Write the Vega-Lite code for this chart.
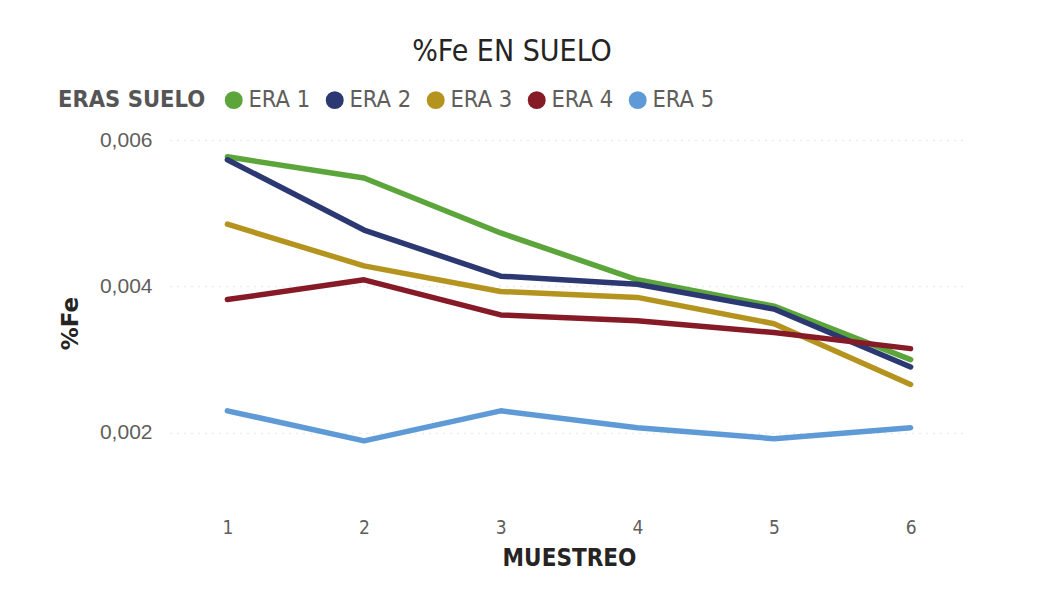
{
  "$schema": "https://vega.github.io/schema/vega-lite/v6.json",
  "width": 798,
  "height": 366,
  "autosize": {"type": "none"},
  "padding": {"left": 170, "top": 140, "right": 86, "bottom": 103},
  "background": "white",
  "title": {
    "text": "%Fe EN SUELO",
    "anchor": "middle",
    "dx": -57,
    "offset": 21,
    "fontSize": 30,
    "fontWeight": "normal",
    "color": "#252423",
    "font": "DejaVu Sans Condensed, DejaVu Sans, sans-serif"
  },
  "data": {
    "values": [
      {"muestreo": 1, "era": "ERA 1", "fe": 0.00577},
      {"muestreo": 2, "era": "ERA 1", "fe": 0.00548},
      {"muestreo": 3, "era": "ERA 1", "fe": 0.00473},
      {"muestreo": 4, "era": "ERA 1", "fe": 0.00409},
      {"muestreo": 5, "era": "ERA 1", "fe": 0.00373},
      {"muestreo": 6, "era": "ERA 1", "fe": 0.0030},
      {"muestreo": 1, "era": "ERA 2", "fe": 0.00573},
      {"muestreo": 2, "era": "ERA 2", "fe": 0.00477},
      {"muestreo": 3, "era": "ERA 2", "fe": 0.00414},
      {"muestreo": 4, "era": "ERA 2", "fe": 0.00403},
      {"muestreo": 5, "era": "ERA 2", "fe": 0.00369},
      {"muestreo": 6, "era": "ERA 2", "fe": 0.0029},
      {"muestreo": 1, "era": "ERA 3", "fe": 0.00485},
      {"muestreo": 2, "era": "ERA 3", "fe": 0.00428},
      {"muestreo": 3, "era": "ERA 3", "fe": 0.00393},
      {"muestreo": 4, "era": "ERA 3", "fe": 0.00385},
      {"muestreo": 5, "era": "ERA 3", "fe": 0.00349},
      {"muestreo": 6, "era": "ERA 3", "fe": 0.00266},
      {"muestreo": 1, "era": "ERA 4", "fe": 0.00382},
      {"muestreo": 2, "era": "ERA 4", "fe": 0.00409},
      {"muestreo": 3, "era": "ERA 4", "fe": 0.00361},
      {"muestreo": 4, "era": "ERA 4", "fe": 0.00353},
      {"muestreo": 5, "era": "ERA 4", "fe": 0.00337},
      {"muestreo": 6, "era": "ERA 4", "fe": 0.00315},
      {"muestreo": 1, "era": "ERA 5", "fe": 0.0023},
      {"muestreo": 2, "era": "ERA 5", "fe": 0.00189},
      {"muestreo": 3, "era": "ERA 5", "fe": 0.0023},
      {"muestreo": 4, "era": "ERA 5", "fe": 0.00207},
      {"muestreo": 5, "era": "ERA 5", "fe": 0.00192},
      {"muestreo": 6, "era": "ERA 5", "fe": 0.00207}
    ]
  },
  "mark": {"type": "line", "strokeWidth": 5.5, "strokeCap": "round", "strokeJoin": "round"},
  "encoding": {
    "x": {
      "field": "muestreo",
      "type": "ordinal",
      "scale": {"type": "point", "padding": 0.42},
      "axis": {
        "title": "MUESTREO",
        "labelAngle": 0,
        "domain": false,
        "ticks": false,
        "grid": false,
        "labelPadding": 12,
        "labelFontSize": 19,
        "labelColor": "#605E5C",
        "titleFontSize": 24,
        "titleFontWeight": "bold",
        "titleColor": "#252423",
        "titlePadding": 9,
        "titleFont": "DejaVu Sans Condensed, DejaVu Sans, sans-serif",
        "labelFont": "DejaVu Sans Condensed, DejaVu Sans, sans-serif"
      }
    },
    "y": {
      "field": "fe",
      "type": "quantitative",
      "scale": {"domain": [0.001, 0.006], "nice": false, "zero": false},
      "axis": {
        "title": "%Fe",
        "values": [0.002, 0.004, 0.006],
        "labelExpr": "replace(format(datum.value, '.3f'), '.', ',')",
        "domain": false,
        "ticks": false,
        "grid": true,
        "gridColor": "#D9D9D9",
        "gridDash": [1, 6],
        "gridWidth": 1.5,
        "labelPadding": 18,
        "labelFontSize": 21,
        "labelColor": "#605E5C",
        "titleFontSize": 23,
        "titleFontWeight": "bold",
        "titleColor": "#252423",
        "titlePadding": 17,
        "titleFont": "DejaVu Sans, sans-serif",
        "labelFont": "Liberation Sans, DejaVu Sans, sans-serif"
      }
    },
    "color": {
      "field": "era",
      "type": "nominal",
      "scale": {
        "domain": ["ERA 1", "ERA 2", "ERA 3", "ERA 4", "ERA 5"],
        "range": ["#5BA53B", "#2C3872", "#B4941F", "#861B27", "#5E9BD6"]
      },
      "legend": {
        "title": "ERAS SUELO",
        "orient": "none",
        "legendX": -112,
        "legendY": -52,
        "direction": "horizontal",
        "titleOrient": "left",
        "titleAnchor": "middle",
        "titleBaseline": "middle",
        "titleFontSize": 23.5,
        "titleFontWeight": "bold",
        "titleColor": "#555555",
        "titlePadding": 16,
        "titleFont": "DejaVu Sans Condensed, DejaVu Sans, sans-serif",
        "labelFont": "DejaVu Sans Condensed, DejaVu Sans, sans-serif",
        "labelFontSize": 23.5,
        "labelColor": "#605E5C",
        "labelOffset": 3,
        "symbolType": "circle",
        "symbolSize": 320,
        "symbolStrokeWidth": 0,
        "columnPadding": 12,
        "encode": {
          "symbols": {"update": {"fill": {"scale": "color", "field": "value"}, "strokeWidth": {"value": 0}}}
        }
      }
    }
  },
  "config": {"view": {"stroke": null}}
}
